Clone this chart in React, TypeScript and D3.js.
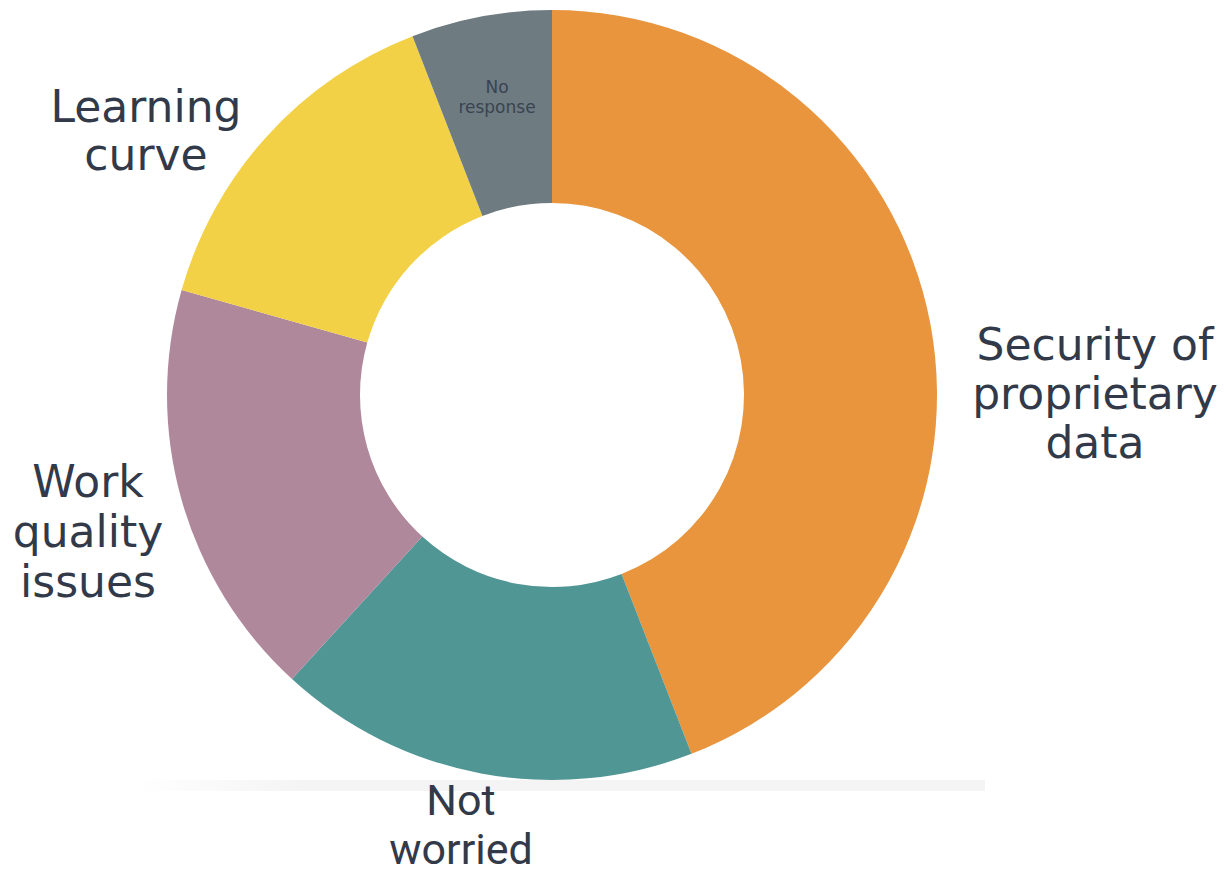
import React from "react";
import * as d3 from "d3";

const categories = [
  "Security of proprietary data",
  "Not worried",
  "Work quality issues",
  "Learning curve",
  "No response",
];
const values = [44.1, 17.7, 17.6, 14.7, 5.9];
const colors = ["#E8953E", "#4F9694", "#B0889C", "#F3D147", "#6E7B81"];

const labelLines = [
  ["Security of", "proprietary", "data"],
  ["Not", "worried"],
  ["Work", "quality", "issues"],
  ["Learning", "curve"],
  ["No", "response"],
];

const W = 1226;
const H = 874;
const CX = 552;
const CY = 395;
const R = 385;
const RI = 192;

// label layout (anchor point of first baseline, line height, font)
const labelLayout = [
  { x: 1095, y: 360, lh: 49, size: 44, family: "DejaVu Sans, sans-serif" },
  { x: 461, y: 815, lh: 49, size: 43, family: "Roboto, sans-serif" },
  { x: 88, y: 497, lh: 50, size: 44, family: "DejaVu Sans, sans-serif" },
  { x: 146, y: 122, lh: 48, size: 44, family: "DejaVu Sans, sans-serif" },
  { x: 497, y: 93, lh: 20, size: 17, family: "DejaVu Sans, sans-serif" },
];

export default function App() {
  const pie = d3
    .pie<number>()
    .sort(null)
    .value((d) => d)
    .startAngle(0)
    .endAngle(2 * Math.PI);
  const arcs = pie(values);
  const arc = d3.arc<d3.PieArcDatum<number>>().innerRadius(RI).outerRadius(R);

  return (
    <svg
      width={W}
      height={H}
      style={{ position: "absolute", left: 0, top: 0, background: "#fff" }}
    >
      <defs>
        <linearGradient id="shadow" x1="0" x2="1" y1="0" y2="0">
          <stop offset="0" stopColor="#f4f4f4" stopOpacity="0" />
          <stop offset="0.2" stopColor="#f4f4f4" stopOpacity="1" />
          <stop offset="1" stopColor="#f4f4f4" stopOpacity="1" />
        </linearGradient>
      </defs>
      <rect x={135} y={780} width={850} height={11} fill="url(#shadow)" />
      <g transform={`translate(${CX},${CY})`}>
        {arcs.map((a, i) => (
          <path key={categories[i]} d={arc(a) || ""} fill={colors[i]} />
        ))}
      </g>
      {labelLines.map((lines, i) => {
        const L = labelLayout[i];
        return (
          <text
            key={categories[i]}
            x={L.x}
            y={L.y}
            textAnchor="middle"
            fontFamily={L.family}
            fontSize={L.size}
            fill={i === 4 ? "#3a4352" : "#323a4a"}
          >
            {lines.map((ln, j) => (
              <tspan key={j} x={L.x} y={L.y + j * L.lh}>
                {ln}
              </tspan>
            ))}
          </text>
        );
      })}
    </svg>
  );
}
